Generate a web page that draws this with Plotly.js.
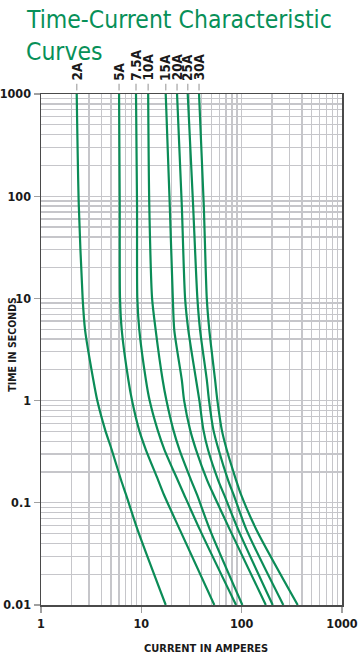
<!DOCTYPE html>
<html>
<head>
<meta charset="utf-8">
<script src="https://cdn.plot.ly/plotly-3.0.1.min.js"></script>
<style>
  html, body { margin: 0; padding: 0; background: #ffffff; }
  #chart { width: 360px; height: 660px; }
</style>
</head>
<body>
<div id="chart"></div>
<script>
// Time points (seconds) shared by all curves
const timeSec = [1000, 82, 10, 4.9, 1.6, 1, 0.52, 0.33, 0.167, 0.12, 0.054, 0.01];

// Current (amperes) at each time point, per fuse rating
const amp2A  = [2.27, 2.38, 2.6, 2.75, 3.32, 3.64, 4.35, 5.07, 6.28, 7.04, 9.2, 17.5];
const amp5A  = [6.0, 6.09, 6.13, 6.38, 7.42, 8.08, 9.48, 11.1, 14.7, 16.8, 24.3, 53.4];
const amp75A = [8.85, 9.06, 9.12, 9.55, 11.1, 12.1, 14.5, 17.0, 23.0, 26.7, 38.5, 87.9];
const amp10A = [11.7, 12.0, 12.8, 13.9, 16.3, 17.8, 20.8, 24.0, 31.3, 35.9, 48.4, 101.6];
const amp15A = [17.5, 19.2, 20.6, 21.3, 25.3, 26.7, 30.6, 35.1, 45.2, 52.5, 76.6, 174];
const amp20A = [22.7, 25.3, 27.3, 29.4, 35.1, 37.9, 41.5, 46.2, 58.2, 66.8, 92.7, 204];
const amp25A = [29.0, 32.8, 36.2, 38.5, 44.9, 47.3, 52.2, 58.9, 73.2, 83.1, 112, 260];
const amp30A = [37.6, 41.9, 44.9, 47.6, 54.3, 57.3, 63.3, 71.0, 87.9, 98.6, 141, 362];

const ratingLabels = ['2A', '5A', '7.5A', '10A', '15A', '20A', '25A', '30A'];
const seriesList = [amp2A, amp5A, amp75A, amp10A, amp15A, amp20A, amp25A, amp30A];

const xTickVals = [1, 10, 100, 1000];
const xTickText = ['1', '10', '100', '1000'];
const yTickVals = [0.01, 0.1, 1, 10, 100, 1000];
const yTickText = ['0.01', '0.1', '1', '10', '100', '1000'];

const GREEN = '#0b8c57';
const NARROW = '"DejaVu Sans Condensed", "Liberation Sans Narrow", sans-serif';
const GRID = '#c6c6ca';

const traces = seriesList.map((s, i) => ({
  x: s,
  y: timeSec,
  type: 'scatter',
  mode: 'lines',
  name: ratingLabels[i],
  line: { color: GREEN, width: 2.2, shape: 'spline', smoothing: 0.7 },
  hoverinfo: 'skip'
}));

// rating labels above each curve start
const annotations = seriesList.map((s, i) => ({
  x: Math.log10(s[0]),
  xref: 'x',
  y: 1.022,
  yref: 'paper',
  yanchor: 'bottom',
  xanchor: 'center',
  text: ratingLabels[i],
  textangle: -90,
  showarrow: false,
  font: { family: NARROW, size: 13.5, color: '#1a1a1a', weight: 'bold' }
}));

annotations.push({
  x: 0.548, xref: 'paper', y: -0.085, yref: 'paper',
  xanchor: 'center', yanchor: 'middle',
  text: 'CURRENT IN AMPERES', showarrow: false,
  font: { family: NARROW, size: 11, color: '#1a1a1a', weight: 'bold' }
});
annotations.push({
  x: -0.095, xref: 'paper', y: 0.51, yref: 'paper',
  xanchor: 'center', yanchor: 'middle', textangle: -90,
  text: 'TIME IN SECONDS', showarrow: false,
  font: { family: NARROW, size: 10.5, color: '#1a1a1a', weight: 'bold' }
});
annotations.push({
  x: -0.0565, xref: 'paper', y: 1.146, yref: 'paper',
  xanchor: 'left', yanchor: 'middle',
  text: 'Time-Current Characteristic', showarrow: false,
  font: { family: NARROW, size: 24.5, color: '#079058' }
});
annotations.push({
  x: -0.0565, xref: 'paper', y: 1.083, yref: 'paper',
  xanchor: 'left', yanchor: 'middle',
  text: 'Curves', showarrow: false,
  font: { family: NARROW, size: 24.5, color: '#079058' }
});

// small gray tick marks under the rating labels (shapes use data values on log axes)
const shapes = seriesList.map(s => ({
  type: 'line', xref: 'x', yref: 'paper',
  x0: s[0], x1: s[0],
  y0: 1.007, y1: 1.02,
  line: { color: '#b5b5b5', width: 1.5 }
}));

const axisCommon = {
  type: 'log',
  showgrid: true,
  gridcolor: GRID,
  gridwidth: 1.3,
  showline: true,
  linecolor: '#4a4a4a',
  linewidth: 1.5,
  mirror: true,
  zeroline: false,
  ticks: 'outside',
  ticklen: 6,
  tickcolor: '#a0a0a0',
  tickwidth: 1.3,
  minor: { dtick: 'D1', showgrid: true, gridcolor: GRID, gridwidth: 1.3, ticks: '' },
  tickfont: { family: NARROW, size: 12.5, color: '#1a1a1a', weight: 'bold' },
  fixedrange: true
};

const layout = {
  width: 360,
  height: 660,
  margin: { l: 41, r: 18, t: 94, b: 55 },
  paper_bgcolor: '#ffffff',
  plot_bgcolor: '#ffffff',
  showlegend: false,
  xaxis: Object.assign({}, axisCommon, {
    range: [0, 3],
    tickmode: 'array', tickvals: xTickVals, ticktext: xTickText
  }),
  yaxis: Object.assign({}, axisCommon, {
    range: [-2, 3],
    tickmode: 'array', tickvals: yTickVals, ticktext: yTickText
  }),
  annotations: annotations,
  shapes: shapes
};

Plotly.newPlot('chart', traces, layout, { displayModeBar: false, staticPlot: true });
</script>
</body>
</html>
